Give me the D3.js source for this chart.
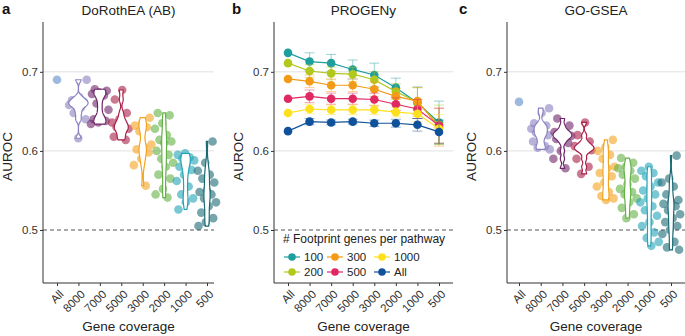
<!DOCTYPE html>
<html>
<head>
<meta charset="utf-8">
<script src="https://cdn.jsdelivr.net/npm/d3@7"></script>
<style>
  body { margin: 0; background: #fff; }
  svg { display: block; font-family: "Liberation Sans", Arial, sans-serif; }
</style>
</head>
<body>
<svg id="chart" width="685" height="336"></svg>
<script>
const coverage = ['All', '8000', '7000', '5000', '3000', '2000', '1000', '500'];
const coverageColors = ['#5b8cc8', '#8a80c0', '#6e2569', '#a91f47', '#f3a41e', '#62b144', '#22a4b6', '#1b6a74'];

// AUROC per coverage level (same order as coverage)
const dorotheaAuroc = [
  [0.690],
  [0.690, 0.668, 0.664, 0.662, 0.660, 0.658, 0.655, 0.648, 0.640, 0.616],
  [0.678, 0.676, 0.674, 0.672, 0.670, 0.660, 0.652, 0.642, 0.640, 0.638, 0.636, 0.634],
  [0.677, 0.665, 0.648, 0.640, 0.636, 0.632, 0.630, 0.628, 0.624, 0.618, 0.614],
  [0.642, 0.636, 0.632, 0.630, 0.625, 0.608, 0.605, 0.602, 0.598, 0.590, 0.582, 0.556],
  [0.648, 0.645, 0.635, 0.628, 0.620, 0.614, 0.612, 0.610, 0.600, 0.595, 0.590, 0.585, 0.580, 0.570, 0.565, 0.552, 0.545, 0.541],
  [0.597, 0.595, 0.592, 0.590, 0.588, 0.585, 0.580, 0.576, 0.570, 0.562, 0.555, 0.545, 0.540, 0.535, 0.526],
  [0.612, 0.585, 0.575, 0.570, 0.565, 0.560, 0.550, 0.548, 0.545, 0.540, 0.535, 0.530, 0.522, 0.515, 0.510, 0.505]
];

const gogseaAuroc = [
  [0.662],
  [0.654, 0.648, 0.635, 0.632, 0.630, 0.628, 0.625, 0.623, 0.620, 0.618, 0.612, 0.606, 0.604, 0.602],
  [0.641, 0.632, 0.626, 0.624, 0.622, 0.620, 0.619, 0.617, 0.615, 0.610, 0.600, 0.590, 0.578],
  [0.636, 0.620, 0.612, 0.608, 0.606, 0.604, 0.603, 0.601, 0.598, 0.590, 0.580, 0.571],
  [0.614, 0.605, 0.600, 0.595, 0.590, 0.580, 0.578, 0.572, 0.568, 0.560, 0.555, 0.548, 0.543, 0.540, 0.538],
  [0.591, 0.585, 0.580, 0.578, 0.575, 0.570, 0.565, 0.558, 0.552, 0.548, 0.545, 0.540, 0.535, 0.528, 0.520, 0.515],
  [0.580, 0.575, 0.572, 0.568, 0.560, 0.555, 0.550, 0.545, 0.540, 0.535, 0.530, 0.525, 0.518, 0.510, 0.505, 0.497, 0.490, 0.485, 0.480],
  [0.594, 0.565, 0.560, 0.555, 0.545, 0.538, 0.535, 0.533, 0.530, 0.525, 0.520, 0.515, 0.510, 0.505, 0.500, 0.495, 0.485, 0.478, 0.475]
];

const footprintGroups = ['100', '200', '300', '500', '1000', 'All'];
const footprintColors = ['#1f9e9e', '#b2c81c', '#f39a16', '#e02862', '#ffe01c', '#10519c'];
// mean AUROC per footprint group, across coverage
const progenyMean = [
  [0.724, 0.713, 0.711, 0.703, 0.696, 0.680, 0.661, 0.636],
  [0.711, 0.701, 0.698, 0.697, 0.690, 0.675, 0.662, 0.633],
  [0.691, 0.688, 0.683, 0.683, 0.678, 0.669, 0.663, 0.630],
  [0.666, 0.669, 0.666, 0.666, 0.665, 0.659, 0.653, 0.632],
  [0.648, 0.653, 0.652, 0.652, 0.652, 0.649, 0.647, 0.628],
  [0.625, 0.637, 0.636, 0.637, 0.635, 0.635, 0.633, 0.624]
];
const progenySd = [
  [0, 0.011, 0.011, 0.012, 0.015, 0.012, 0.020, 0.027],
  [0, 0.008, 0.008, 0.009, 0.010, 0.010, 0.018, 0.025],
  [0, 0.008, 0.008, 0.008, 0.009, 0.010, 0.017, 0.024],
  [0, 0.008, 0.007, 0.007, 0.008, 0.008, 0.012, 0.022],
  [0, 0.006, 0.006, 0.006, 0.006, 0.006, 0.010, 0.018],
  [0, 0.004, 0.003, 0.003, 0.004, 0.005, 0.008, 0.015]
];

const yTicks = [0.5, 0.6, 0.7];

const svg = d3.select('#chart');
const TOP = 22, BOTTOM = 283;
const y = d3.scaleLinear().domain([0.433, 0.763]).range([BOTTOM, TOP]);

const panels = [
  { letter: 'a', title: 'DoRothEA (AB)', left: 43, right: 214, first: 57, last: 207, ox: 0 },
  { letter: 'b', title: 'PROGENy', left: 274, right: 453, first: 288, last: 439, ox: 230 },
  { letter: 'c', title: 'GO-GSEA', left: 507, right: 685, first: 519, last: 671, ox: 457 }
];

function drawFrame(p) {
  const g = svg.append('g');
  const x = d3.scalePoint().domain(coverage).range([p.first, p.last]);

  // grid + reference line
  g.selectAll('line.grid').data([0.6, 0.7]).join('line')
    .attr('x1', p.left).attr('x2', p.right)
    .attr('y1', d => y(d)).attr('y2', d => y(d))
    .attr('stroke', '#dcdcdc').attr('stroke-width', 0.9);
  g.append('line')
    .attr('x1', p.left).attr('x2', p.right)
    .attr('y1', y(0.5)).attr('y2', y(0.5))
    .attr('stroke', '#555').attr('stroke-width', 1.2).attr('stroke-dasharray', '4,3');

  // axes
  const ya = g.append('g').attr('transform', `translate(${p.left},0)`)
    .call(d3.axisLeft(y).tickValues(yTicks).tickSize(3).tickPadding(2).tickFormat(d3.format('.1f')));
  ya.select('.domain').remove();
  ya.selectAll('text').attr('font-size', 11.5).attr('fill', '#333').attr('font-family', null);
  ya.selectAll('line').attr('stroke', '#333');

  const xa = g.append('g').attr('transform', `translate(0,${BOTTOM})`)
    .call(d3.axisBottom(x).tickSize(3));
  xa.select('.domain').remove();
  xa.selectAll('line').attr('stroke', '#333');
  xa.selectAll('text')
    .attr('font-size', 11.5).attr('fill', '#333').attr('font-family', null)
    .attr('text-anchor', 'end')
    .attr('y', 0).attr('dy', '0.72em')
    .attr('transform', 'translate(1,6) rotate(-45)');

  g.append('line').attr('x1', p.left).attr('x2', p.left).attr('y1', TOP).attr('y2', BOTTOM)
    .attr('stroke', '#333').attr('stroke-width', 1);
  g.append('line').attr('x1', p.left).attr('x2', p.right).attr('y1', BOTTOM).attr('y2', BOTTOM)
    .attr('stroke', '#333').attr('stroke-width', 1);

  // labels
  g.append('text').attr('x', p.ox + 2).attr('y', 14).attr('font-size', 15).attr('font-weight', 'bold')
    .attr('fill', '#111').text(p.letter);
  g.append('text').attr('x', (p.left + p.right) / 2).attr('y', 15).attr('text-anchor', 'middle')
    .attr('font-size', 13.5).attr('fill', '#222').text(p.title);
  g.append('text').attr('x', (p.left + p.right) / 2).attr('y', 331).attr('text-anchor', 'middle')
    .attr('font-size', 13.5).attr('fill', '#222').text('Gene coverage');
  g.append('text').attr('transform', `translate(${p.left - 31},${(TOP + BOTTOM) / 2 + 4}) rotate(-90)`)
    .attr('text-anchor', 'middle').attr('font-size', 13.5).attr('fill', '#222').text('AUROC');

  return { g, x };
}

// gaussian kde, bandwidth = adjust * bw.nrd0, trimmed to data range
function kde(vals, adjust) {
  const s = vals.slice().sort(d3.ascending);
  const n = s.length;
  const sd = d3.deviation(s);
  const iqr = d3.quantile(s, 0.75) - d3.quantile(s, 0.25);
  const bw = adjust * 0.9 * Math.min(sd, iqr / 1.34 || sd) * Math.pow(n, -0.2);
  const lo = s[0], hi = s[n - 1];
  return d3.range(0, 121).map(i => {
    const t = lo + (hi - lo) * i / 120;
    const d = d3.mean(s, v => Math.exp(-0.5 * ((t - v) / bw) ** 2)) / (bw * Math.sqrt(2 * Math.PI));
    return [t, d];
  });
}

function drawViolinPanel(p, values) {
  const { g, x } = drawFrame(p);
  const step = x.step();

  const pts = [];
  values.forEach((vals, ci) => {
    vals.forEach((v, i) => {
      const off = vals.length > 1 ? (((i + 1) * 0.618034 + ci * 0.31) % 1 - 0.5) * 0.9 * step : 0;
      pts.push({ cx: x(coverage[ci]) + off, v, c: coverageColors[ci] });
    });
  });
  g.append('g').selectAll('circle').data(pts).join('circle')
    .attr('cx', d => d.cx).attr('cy', d => y(d.v)).attr('r', 4.3)
    .attr('fill', d => d.c).attr('fill-opacity', 0.6);

  const dens = values.map(v => v.length > 1 ? kde(v, 0.6) : null);
  const maxD = d3.max(dens.filter(Boolean), d => d3.max(d, e => e[1]));
  const w = d3.scaleLinear().domain([0, maxD]).range([0, 0.45 * step]);

  dens.forEach((d, ci) => {
    if (!d) return;
    const cx = x(coverage[ci]);
    const area = d3.area().y(e => y(e[0])).x0(e => cx - w(e[1])).x1(e => cx + w(e[1]));
    g.append('path').attr('d', area(d))
      .attr('fill', '#fff').attr('stroke', coverageColors[ci]).attr('stroke-width', 1.2);
  });
}

function drawProgeny(p) {
  const { g, x } = drawFrame(p);
  const cap = 5;

  footprintGroups.forEach((grp, gi) => {
    const col = footprintColors[gi];
    const data = coverage.map((c, i) => ({ c, m: progenyMean[gi][i], s: progenySd[gi][i] }));
    const eb = g.append('g').attr('stroke', col).attr('stroke-opacity', 0.45).attr('stroke-width', 1);
    data.filter(d => d.s > 0).forEach(d => {
      const cx = x(d.c);
      eb.append('line').attr('x1', cx).attr('x2', cx).attr('y1', y(d.m - d.s)).attr('y2', y(d.m + d.s));
      eb.append('line').attr('x1', cx - cap).attr('x2', cx + cap).attr('y1', y(d.m - d.s)).attr('y2', y(d.m - d.s));
      eb.append('line').attr('x1', cx - cap).attr('x2', cx + cap).attr('y1', y(d.m + d.s)).attr('y2', y(d.m + d.s));
    });
    g.append('path').datum(data)
      .attr('d', d3.line().x(d => x(d.c)).y(d => y(d.m)))
      .attr('fill', 'none').attr('stroke', col).attr('stroke-width', 1.2);
    g.append('g').selectAll('circle').data(data).join('circle')
      .attr('cx', d => x(d.c)).attr('cy', d => y(d.m)).attr('r', 4.3).attr('fill', col);
  });

  // legend
  const lg = g.append('g');
  lg.append('text').attr('x', 283).attr('y', 243).attr('font-size', 12).attr('fill', '#222')
    .text('# Footprint genes per pathway');
  const colX = [292, 335, 382];
  footprintGroups.forEach((grp, gi) => {
    const cx = colX[Math.floor(gi / 2)];
    const cy = gi % 2 === 0 ? 257 : 272;
    lg.append('line').attr('x1', cx - 8).attr('x2', cx + 8).attr('y1', cy).attr('y2', cy)
      .attr('stroke', footprintColors[gi]).attr('stroke-width', 1.2);
    lg.append('circle').attr('cx', cx).attr('cy', cy).attr('r', 3.8).attr('fill', footprintColors[gi]);
    lg.append('text').attr('x', cx + 12).attr('y', cy + 4).attr('font-size', 11.5).attr('fill', '#222').text(grp);
  });
}

drawViolinPanel(panels[0], dorotheaAuroc);
drawProgeny(panels[1]);
drawViolinPanel(panels[2], gogseaAuroc);
</script>
</body>
</html>
